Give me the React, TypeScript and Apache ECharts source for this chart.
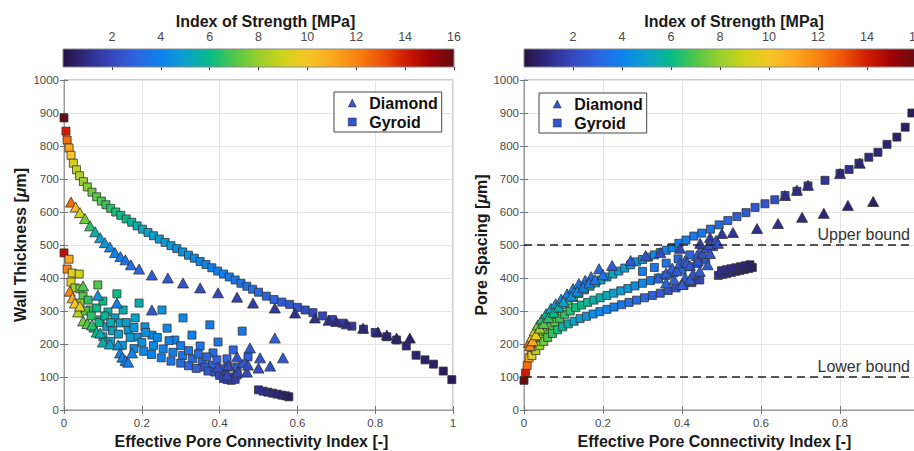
import React, { useEffect, useRef } from 'react';
import * as echarts from 'echarts';

// ---------- data ----------
// [effective pore connectivity index, wall thickness (um), index of strength (MPa)]
const leftGyroidTop = [
  [0.000, 885, 16], [0.005, 845, 14], [0.008, 818, 12.5], [0.013, 794, 11], [0.018, 772, 10],
  [0.024, 748, 9.3], [0.032, 728, 8.8], [0.040, 710, 8.4], [0.050, 692, 8.0], [0.060, 676, 7.7],
  [0.072, 660, 7.4], [0.084, 646, 7.1], [0.096, 633, 6.9], [0.108, 622, 6.7], [0.120, 611, 6.5],
  [0.133, 600, 6.3], [0.146, 590, 6.1], [0.160, 579, 5.9], [0.174, 569, 5.7], [0.188, 558, 5.5],
  [0.202, 548, 5.3], [0.216, 538, 5.1], [0.230, 528, 5.0], [0.245, 518, 4.9], [0.260, 508, 4.8],
  [0.275, 498, 4.7], [0.290, 489, 4.6], [0.305, 479, 4.5], [0.320, 469, 4.4], [0.335, 460, 4.3],
  [0.350, 450, 4.2], [0.365, 441, 4.1], [0.380, 431, 4.0], [0.395, 421, 3.9], [0.410, 412, 3.8],
  [0.425, 403, 3.7], [0.440, 394, 3.6], [0.455, 384, 3.5], [0.470, 375, 3.4], [0.485, 366, 3.3],
  [0.500, 357, 3.2], [0.520, 345, 3.0], [0.540, 335, 2.8], [0.560, 327, 2.7], [0.580, 320, 2.5],
  [0.600, 311, 2.4], [0.620, 303, 2.2], [0.640, 295, 2.1], [0.665, 285, 1.9], [0.690, 274, 1.8],
  [0.715, 263, 1.6], [0.740, 254, 1.5], [0.770, 245, 1.3], [0.800, 235, 1.2], [0.830, 222, 1.0],
  [0.855, 212, 0.9], [0.880, 194, 0.8], [0.905, 166, 0.7], [0.928, 152, 0.6], [0.950, 139, 0.5],
  [0.975, 118, 0.4], [0.997, 92, 0.3],
];
const leftGyroidLow = [
  [0.000, 476, 14.5], [0.013, 457, 11], [0.008, 427, 12], [0.021, 415, 9.5], [0.039, 412, 9],
  [0.018, 388, 9.5], [0.028, 370, 8], [0.041, 367, 7.5], [0.049, 345, 7], [0.062, 333, 6.5],
  [0.041, 324, 8], [0.087, 379, 7], [0.067, 303, 6.5], [0.084, 309, 6], [0.100, 330, 6],
  [0.113, 297, 5.5], [0.136, 352, 6], [0.152, 303, 5.5], [0.131, 279, 5], [0.093, 273, 5.5],
  [0.110, 252, 5], [0.075, 248, 6], [0.144, 264, 5], [0.165, 242, 4.8], [0.183, 279, 5],
  [0.193, 324, 5.5], [0.208, 252, 4.5], [0.188, 221, 4.5], [0.226, 227, 4.3], [0.252, 303, 4.6],
  [0.265, 248, 4.2], [0.285, 212, 4], [0.306, 279, 4.2], [0.329, 227, 4], [0.350, 194, 3.5],
  [0.375, 258, 3.8], [0.383, 173, 3.2], [0.396, 206, 3.5], [0.419, 155, 3], [0.435, 182, 3],
  [0.458, 239, 3.6], [0.473, 161, 2.8],
  [0.055, 300, 7], [0.070, 285, 6.5], [0.090, 265, 6], [0.105, 285, 5.8], [0.125, 240, 5.2],
  [0.120, 265, 5.3], [0.140, 230, 5], [0.160, 265, 4.9], [0.170, 220, 4.8], [0.180, 250, 4.7],
  [0.200, 205, 4.5], [0.210, 235, 4.4], [0.230, 195, 4.3], [0.240, 220, 4.2], [0.255, 185, 4.0],
  [0.270, 210, 4.0], [0.280, 175, 3.8], [0.300, 195, 3.8], [0.305, 165, 3.6], [0.320, 180, 3.5],
  [0.330, 155, 3.3], [0.345, 170, 3.2], [0.355, 145, 3.0], [0.367, 161, 3.0], [0.380, 135, 2.8],
  [0.393, 152, 2.8], [0.405, 125, 2.6], [0.422, 130, 2.5], [0.445, 130, 2.5], [0.460, 140, 2.6],
  [0.100, 222, 5.2], [0.120, 208, 5], [0.150, 196, 4.6], [0.180, 186, 4.4], [0.205, 178, 4.2],
  [0.225, 168, 4], [0.250, 158, 3.8], [0.275, 148, 3.5], [0.300, 142, 3.2], [0.320, 134, 3],
  [0.340, 126, 2.8], [0.362, 130, 2.6], [0.370, 118, 2.5], [0.388, 115, 2.3], [0.400, 105, 2.1],
  [0.414, 106, 2], [0.432, 100, 1.9], [0.445, 106, 1.9],
  [0.410, 95, 1.8], [0.420, 92, 1.7], [0.430, 90, 1.6], [0.440, 93, 1.6],
];
const leftGyroidSmall = [
  [0.500, 61, 1.2], [0.512, 57, 1.1], [0.524, 54, 1.0], [0.536, 51, 0.9],
  [0.548, 48, 0.8], [0.560, 45, 0.7], [0.570, 43, 0.6], [0.578, 40, 0.5],
];
const leftDiamondTop = [
  [0.018, 630, 12.5], [0.030, 615, 10.5], [0.041, 598, 9], [0.054, 580, 7.5], [0.067, 558, 6.5],
  [0.080, 540, 5.6], [0.093, 522, 5], [0.105, 507, 4.6], [0.118, 494, 4.3], [0.131, 477, 4.0],
  [0.145, 465, 3.7], [0.158, 455, 3.5], [0.172, 440, 3.3], [0.193, 427, 3.0], [0.226, 409, 2.7],
  [0.267, 400, 2.5], [0.306, 385, 2.3], [0.350, 370, 2.1], [0.396, 355, 1.9], [0.445, 342, 1.7],
  [0.486, 324, 1.5], [0.542, 309, 1.4], [0.594, 294, 1.2], [0.645, 279, 1.1], [0.680, 272, 1.0],
  [0.700, 268, 1.0], [0.727, 261, 0.9], [0.769, 248, 0.8], [0.807, 236, 0.7], [0.830, 227, 0.7],
  [0.855, 218, 0.6], [0.889, 218, 0.6],
];
const leftDiamondLow = [
  [0.015, 360, 12], [0.022, 340, 11], [0.028, 324, 10], [0.036, 297, 8.5], [0.041, 315, 9.5],
  [0.049, 270, 7.5], [0.049, 376, 7], [0.060, 262, 7], [0.072, 258, 6.5], [0.084, 236, 6],
  [0.093, 233, 5.5], [0.087, 348, 4.5], [0.100, 206, 5.5], [0.118, 200, 5], [0.136, 324, 4],
  [0.139, 197, 4.5], [0.144, 173, 4.2], [0.150, 160, 4], [0.158, 150, 3.8], [0.165, 145, 3.8],
  [0.175, 173, 4], [0.226, 303, 2.5],
  [0.396, 130, 2.2], [0.419, 106, 2.0], [0.422, 136, 2.2], [0.445, 161, 2.4], [0.447, 115, 2.0],
  [0.470, 115, 2.0], [0.473, 136, 2.2], [0.478, 188, 2.6], [0.500, 127, 2.1], [0.504, 158, 2.4],
  [0.530, 133, 2.2], [0.542, 218, 2.8], [0.563, 158, 2.5],
];

// [effective pore connectivity index, pore spacing (um), index of strength (MPa)]
const rightGyroidTop = [
  [0.000, 90, 16], [0.004, 112, 14], [0.008, 135, 12.5], [0.013, 158, 11], [0.018, 180, 10],
  [0.024, 200, 9.3], [0.031, 220, 8.8], [0.038, 238, 8.4], [0.046, 254, 8.0], [0.056, 268, 7.7],
  [0.066, 282, 7.4], [0.077, 295, 7.1], [0.088, 307, 6.9], [0.100, 319, 6.7], [0.112, 330, 6.5],
  [0.125, 341, 6.3], [0.139, 353, 6.1], [0.153, 364, 5.9], [0.167, 375, 5.7], [0.181, 385, 5.5],
  [0.195, 394, 5.3], [0.210, 403, 5.1], [0.225, 412, 5.0], [0.240, 421, 4.9], [0.255, 430, 4.8],
  [0.270, 440, 4.7], [0.285, 449, 4.6], [0.300, 456, 4.5], [0.315, 463, 4.4], [0.330, 470, 4.3],
  [0.345, 477, 4.2], [0.360, 484, 4.1], [0.375, 492, 4.0], [0.392, 505, 3.9], [0.410, 515, 3.8],
  [0.430, 527, 3.7], [0.450, 536, 3.6], [0.472, 548, 3.4], [0.494, 561, 3.2], [0.516, 574, 3.0],
  [0.539, 586, 2.8], [0.562, 598, 2.7], [0.585, 614, 2.5], [0.610, 625, 2.4], [0.635, 637, 2.2],
  [0.661, 650, 2.0], [0.691, 663, 1.8], [0.719, 679, 1.6], [0.762, 696, 1.4], [0.800, 717, 1.2],
  [0.823, 729, 1.1], [0.848, 748, 1.0], [0.873, 766, 0.9], [0.896, 781, 0.8], [0.919, 805, 0.7],
  [0.944, 827, 0.6], [0.965, 857, 0.5], [0.982, 900, 0.4],
];
const rightGyroidMid = [
  [0.020, 165, 9.5], [0.028, 185, 9], [0.035, 205, 8.5], [0.045, 222, 8], [0.055, 238, 7.5],
  [0.066, 252, 7.2], [0.078, 265, 7], [0.090, 278, 6.8], [0.103, 290, 6.6], [0.117, 300, 6.4],
  [0.131, 310, 6.2], [0.146, 318, 6.0], [0.161, 326, 5.8], [0.177, 333, 5.6], [0.193, 340, 5.4],
  [0.210, 347, 5.2], [0.227, 354, 5.0], [0.245, 361, 4.8], [0.263, 368, 4.6], [0.281, 376, 4.4],
  [0.300, 384, 4.2], [0.320, 392, 4.0], [0.340, 400, 3.8], [0.360, 408, 3.6], [0.380, 416, 3.4],
  [0.400, 424, 3.2], [0.420, 434, 3.0], [0.440, 444, 2.8], [0.460, 455, 2.6],
  [0.300, 420, 3.8], [0.330, 432, 3.6], [0.360, 445, 3.4], [0.390, 458, 3.2], [0.420, 470, 3.0],
  [0.450, 482, 2.8], [0.480, 495, 2.6],
];
const rightGyroidLow = [
  [0.030, 180, 8.5], [0.040, 195, 8], [0.050, 208, 7.5], [0.060, 220, 7], [0.072, 232, 6.6],
  [0.085, 243, 6.2], [0.098, 252, 5.8], [0.112, 261, 5.4], [0.127, 269, 5.1], [0.142, 277, 4.8],
  [0.158, 284, 4.6], [0.175, 291, 4.4], [0.192, 298, 4.2], [0.210, 305, 4.0], [0.228, 312, 3.8],
  [0.247, 319, 3.6], [0.266, 326, 3.4], [0.285, 333, 3.2], [0.305, 340, 3.0], [0.325, 347, 2.8],
  [0.345, 354, 2.6], [0.365, 362, 2.4], [0.385, 370, 2.2], [0.405, 378, 2.0], [0.425, 386, 1.9],
  [0.445, 394, 1.8],
];
const rightGyroidSmall = [
  [0.492, 408, 1.2], [0.503, 411, 1.1], [0.514, 414, 1.0], [0.525, 417, 1.0], [0.536, 420, 0.9],
  [0.547, 423, 0.8], [0.558, 426, 0.7], [0.569, 429, 0.6], [0.578, 432, 0.5],
  [0.500, 422, 1.2], [0.512, 425, 1.1], [0.524, 428, 1.0], [0.536, 431, 0.9], [0.548, 434, 0.8],
  [0.560, 437, 0.7], [0.572, 440, 0.6],
];
const rightDiamondTop = [
  [0.013, 205, 12.5], [0.020, 222, 10.5], [0.027, 240, 9], [0.035, 258, 7.5], [0.045, 275, 6.5],
  [0.056, 292, 5.6], [0.068, 308, 5], [0.080, 322, 4.6], [0.094, 336, 4.3], [0.109, 352, 4.0],
  [0.124, 368, 3.7], [0.139, 383, 3.5], [0.155, 393, 3.3], [0.170, 404, 3.1], [0.190, 428, 3.0],
  [0.223, 438, 2.7], [0.270, 453, 2.5], [0.308, 468, 2.3], [0.345, 477, 2.1], [0.395, 490, 1.9],
  [0.446, 505, 1.7], [0.471, 523, 1.5], [0.501, 535, 1.4], [0.529, 538, 1.3], [0.590, 550, 1.2],
  [0.643, 565, 1.1], [0.661, 650, 1.0], [0.691, 666, 1.0], [0.719, 681, 0.9], [0.704, 584, 0.9],
  [0.759, 596, 0.8], [0.800, 717, 0.8], [0.820, 620, 0.7], [0.850, 748, 0.7], [0.884, 632, 0.6],
];
const rightDiamondLow = [
  [0.015, 195, 12], [0.022, 210, 11], [0.030, 228, 9.5], [0.040, 248, 8], [0.050, 262, 7],
  [0.062, 280, 6.5], [0.075, 296, 6], [0.088, 312, 5.5], [0.100, 328, 5], [0.120, 345, 4.5],
  [0.135, 360, 4.2], [0.150, 372, 4], [0.165, 385, 3.8], [0.180, 395, 3.6], [0.200, 410, 3.4],
  [0.340, 400, 2.9], [0.360, 415, 2.8], [0.375, 430, 2.8], [0.387, 422, 2.7], [0.395, 445, 2.7],
  [0.408, 401, 2.6], [0.408, 453, 2.6], [0.413, 447, 2.6], [0.420, 438, 2.5], [0.428, 413, 2.5],
  [0.438, 468, 2.5], [0.440, 453, 2.4], [0.453, 474, 2.4], [0.463, 492, 2.3], [0.471, 474, 2.3],
  [0.471, 502, 2.3], [0.486, 514, 2.2], [0.491, 505, 2.2], [0.360, 385, 2.9], [0.380, 395, 2.8],
  [0.400, 380, 2.8], [0.420, 395, 2.7], [0.445, 420, 2.6], [0.465, 440, 2.5],
];

const strengthColors = [
  '#261040', '#2f2c88', '#3548bd', '#2d65e0', '#0d82ee', '#0ca0cc', '#06bb88', '#50c64a',
  '#98cf2c', '#cfd31a', '#f6c626', '#fba91c', '#f78410', '#ef5508', '#d01d02', '#a10303', '#650c12',
];
const strengthMin = 0;
const strengthMax = 16;
const colorbarTicks = [2, 4, 6, 8, 10, 12, 14, 16];
const boundValues = [500, 100];
const boundLabels = ['Upper bound', 'Lower bound'];
const seriesNames = ['Diamond', 'Gyroid'];

// ---------- chart ----------
const FONT = 'Liberation Sans, Arial, Helvetica, sans-serif';
const LEGEND_BLUE = '#3355cc';

function mainXAxis(gridIndex: number) {
  return {
    type: 'value', gridIndex, min: 0, max: 1, interval: 0.2,
    name: 'Effective Pore Connectivity Index [-]', nameLocation: 'middle', nameGap: 20,
    nameTextStyle: { fontFamily: FONT, fontSize: 16, fontWeight: 'bold', color: '#1a1a1a', padding: [0, 14, 0, 0] },
    axisLine: { show: true, lineStyle: { color: '#9a9a9a' } },
    axisTick: { show: true, inside: true, length: 4, lineStyle: { color: '#777' } },
    axisLabel: { fontFamily: FONT, fontSize: 11.5, color: '#4a4a4a', margin: 7, formatter: (v: number) => String(v) },
    splitLine: { show: true, lineStyle: { color: '#e4e4e4' } },
  };
}
function mainYAxis(gridIndex: number, name: string, gap: number) {
  return {
    type: 'value', gridIndex, min: 0, max: 1000, interval: 100,
    name, nameLocation: 'middle', nameGap: gap,
    nameTextStyle: {
      fontFamily: FONT, fontSize: 16, fontWeight: 'bold', color: '#1a1a1a',
      rich: { i: { fontFamily: FONT, fontSize: 16, fontWeight: 'bold', fontStyle: 'italic', color: '#1a1a1a' } },
    },
    axisLine: { show: true, lineStyle: { color: '#9a9a9a' } },
    axisTick: { show: true, inside: true, length: 4, lineStyle: { color: '#777' } },
    axisLabel: { fontFamily: FONT, fontSize: 11.5, color: '#4a4a4a', margin: 5, formatter: (v: number) => String(v) },
    splitLine: { show: true, lineStyle: { color: '#e4e4e4' } },
  };
}
function mirrorX(gridIndex: number) {
  return {
    type: 'value', gridIndex, min: 0, max: 1, interval: 0.2, position: 'top',
    axisLine: { show: true, lineStyle: { color: '#9a9a9a' } },
    axisTick: { show: true, inside: true, length: 4, lineStyle: { color: '#777' } },
    axisLabel: { show: false }, splitLine: { show: false },
  };
}
function mirrorY(gridIndex: number) {
  return {
    type: 'value', gridIndex, min: 0, max: 1000, interval: 100, position: 'right',
    axisLine: { show: true, lineStyle: { color: '#9a9a9a' } },
    axisTick: { show: true, inside: true, length: 4, lineStyle: { color: '#777' } },
    axisLabel: { show: false }, splitLine: { show: false },
  };
}
function colorbarX(gridIndex: number, shift: number) {
  return {
    type: 'value', gridIndex, min: strengthMin, max: strengthMax, position: 'top',
    name: 'Index of Strength [MPa]', nameLocation: 'middle', nameGap: 19,
    nameTextStyle: { fontFamily: FONT, fontSize: 16, fontWeight: 'bold', color: '#1a1a1a', padding: [0, 0, 0, shift] },
    axisLine: { show: false },
    axisTick: { show: true, inside: true, length: 3, customValues: colorbarTicks, lineStyle: { color: '#333' } },
    axisLabel: { fontFamily: FONT, fontSize: 12.5, color: '#4a4a4a', margin: 6, customValues: colorbarTicks },
    splitLine: { show: false },
  };
}
function colorbarY(gridIndex: number) {
  return { type: 'value', gridIndex, min: 0, max: 1, show: false };
}

function colorbarSeries(axisIndex: number) {
  const stops = strengthColors.map((c, i) => ({ offset: i / (strengthColors.length - 1), color: c }));
  return {
    type: 'custom', xAxisIndex: axisIndex, yAxisIndex: axisIndex, silent: true,
    data: [[strengthMin, 0]],
    renderItem: (_params: any, api: any) => {
      const p0 = api.coord([strengthMin, 1]);
      const p1 = api.coord([strengthMax, 0]);
      return {
        type: 'rect',
        shape: { x: p0[0], y: p0[1], width: p1[0] - p0[0], height: p1[1] - p0[1] },
        style: { fill: new echarts.graphic.LinearGradient(0, 0, 1, 0, stops), stroke: '#8a8a8a', lineWidth: 1 },
      };
    },
  };
}

function scatter(name: string, axisIndex: number, data: number[][], extra: any = {}) {
  const isDiamond = name === 'Diamond';
  return {
    type: 'scatter', name, xAxisIndex: axisIndex, yAxisIndex: axisIndex,
    symbol: isDiamond ? 'triangle' : 'rect',
    symbolSize: isDiamond ? [11, 10] : 8,
    itemStyle: { color: LEGEND_BLUE, borderColor: '#333', borderWidth: 0.8, opacity: 1 },
    data, ...extra,
  };
}

function legendAt(left: number, top: number) {
  return {
    orient: 'vertical', left, top,
    data: [
      { name: seriesNames[0], icon: 'triangle', itemStyle: { color: LEGEND_BLUE, borderColor: '#222', borderWidth: 0.5 } },
      { name: seriesNames[1], icon: 'rect', itemStyle: { color: LEGEND_BLUE, borderColor: '#222', borderWidth: 0.5 } },
    ],
    itemWidth: 8, itemHeight: 8, itemGap: 1,
    padding: [2, 4, 1, 14],
    backgroundColor: '#fff', borderColor: '#444', borderWidth: 1,
    selectedMode: false,
    textStyle: { fontFamily: FONT, fontSize: 16, fontWeight: 'bold', color: '#111', lineHeight: 18, padding: [0, 0, 0, 8] },
  };
}

export default function App() {
  const ref = useRef<HTMLDivElement>(null);
  useEffect(() => {
    if (!ref.current) return;
    const chart = echarts.init(ref.current, undefined, { renderer: 'svg' });
    const gridBase = { outerBoundsMode: 'none', containLabel: false };
    const option: any = {
      animation: false,
      backgroundColor: '#ffffff',
      textStyle: { fontFamily: FONT },
      grid: [
        { ...gridBase, left: 64, top: 80, width: 389, height: 330, show: true, borderColor: '#9a9a9a', borderWidth: 1 },
        { ...gridBase, left: 524, top: 80, width: 395, height: 330, show: true, borderColor: '#9a9a9a', borderWidth: 1 },
        { ...gridBase, left: 63, top: 49, width: 391, height: 18 },
        { ...gridBase, left: 524, top: 49, width: 392, height: 18 },
      ],
      xAxis: [mainXAxis(0), mainXAxis(1), mirrorX(0), mirrorX(1), colorbarX(2, 14), colorbarX(3, 28)],
      yAxis: [
        mainYAxis(0, 'Wall Thickness [{i|μ}m]', 36),
        mainYAxis(1, 'Pore Spacing [{i|μ}m]', 35),
        mirrorY(0), mirrorY(1), colorbarY(2), colorbarY(3),
      ],
      legend: [legendAt(334, 92), legendAt(539, 93)],
      visualMap: {
        show: false, type: 'continuous', min: strengthMin, max: strengthMax, dimension: 2,
        seriesIndex: [0, 1, 2, 3], inRange: { color: strengthColors },
      },
      series: [
        scatter('Gyroid', 0, [...leftGyroidTop, ...leftGyroidLow, ...leftGyroidSmall]),
        scatter('Diamond', 0, [...leftDiamondTop, ...leftDiamondLow]),
        scatter('Gyroid', 1, [...rightGyroidTop, ...rightGyroidMid, ...rightGyroidLow, ...rightGyroidSmall], {
          markLine: {
            silent: true, symbol: ['none', 'none'], animation: false,
            lineStyle: { color: '#222', width: 1.5, type: [8, 5] },
            label: { show: true, position: 'insideEndTop', formatter: '{b}', fontFamily: FONT, fontSize: 16, color: '#333', distance: [9, 3] },
            data: boundValues.map((v, i) => ({ yAxis: v, name: boundLabels[i] })),
          },
        }),
        scatter('Diamond', 1, [...rightDiamondTop, ...rightDiamondLow]),
        colorbarSeries(4),
        colorbarSeries(5),
      ],
    };
    chart.setOption(option);
    return () => chart.dispose();
  }, []);
  return <div ref={ref} style={{ position: 'fixed', left: 0, top: 0, width: 914, height: 451, background: '#fff' }} />;
}
